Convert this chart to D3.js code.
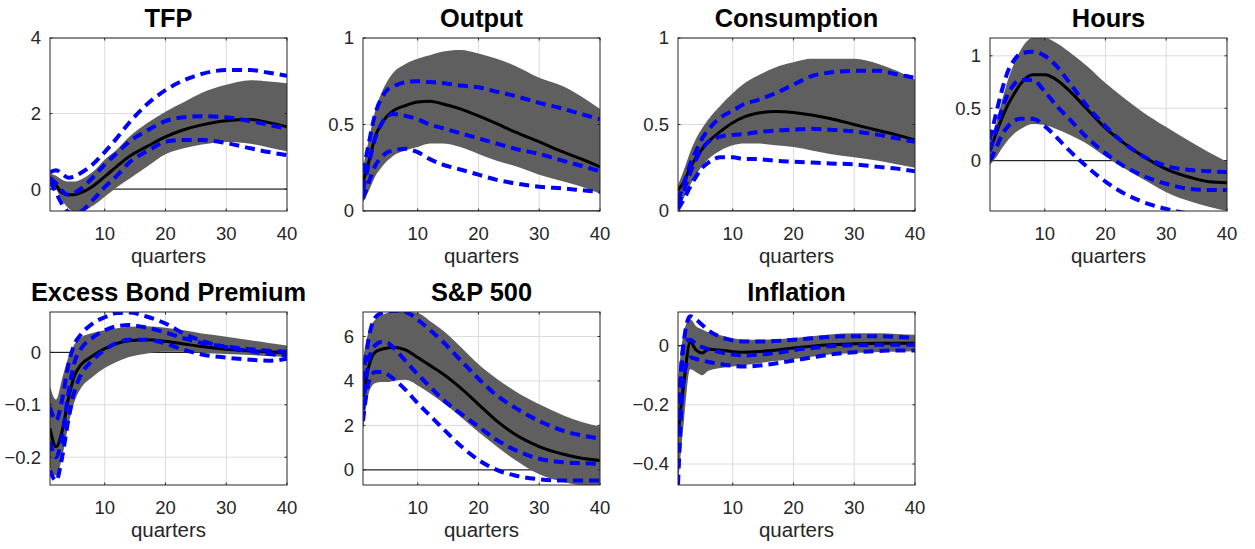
<!DOCTYPE html>
<html>
<head>
<meta charset="utf-8">
<script src="https://cdn.jsdelivr.net/npm/d3@7"></script>
<style>
  html, body { margin: 0; padding: 0; background: #fff; }
  svg text { font-family: "Liberation Sans", Arial, Helvetica, sans-serif; }
</style>
</head>
<body>
<svg id="chart" width="1255" height="549"></svg>
<script>
var quarters = [1, 2, 3, 4, 5, 6, 8, 10, 12, 14, 17, 20, 23, 26, 30, 34, 37, 40];
var xTicks = [10, 20, 30, 40];

// TFP
var tfpBandHi = [0.42, 0.35, 0.25, 0.2, 0.2, 0.25, 0.45, 0.78, 1.05, 1.38, 1.75, 2.05, 2.3, 2.55, 2.76, 2.88, 2.85, 2.8];
var tfpBandLo = [0.2, 0.0, -0.3, -0.5, -0.6, -0.6, -0.45, -0.2, 0.05, 0.27, 0.6, 0.92, 1.08, 1.18, 1.25, 1.2, 1.1, 1.0];
var tfpMedian = [0.3, 0.1, -0.1, -0.15, -0.15, -0.1, 0.07, 0.33, 0.6, 0.86, 1.13, 1.38, 1.57, 1.7, 1.81, 1.84, 1.76, 1.65];
var tfpBlueHi = [0.45, 0.5, 0.4, 0.3, 0.33, 0.42, 0.65, 0.98, 1.35, 1.75, 2.25, 2.62, 2.88, 3.05, 3.15, 3.15, 3.08, 3.0];
var tfpBlueMid = [0.3, 0.15, -0.05, -0.15, -0.1, 0.0, 0.3, 0.65, 0.95, 1.25, 1.55, 1.8, 1.9, 1.93, 1.9, 1.8, 1.7, 1.6];
var tfpBlueLo = [0.2, -0.1, -0.4, -0.6, -0.65, -0.6, -0.3, 0.05, 0.35, 0.7, 1.0, 1.25, 1.3, 1.3, 1.22, 1.08, 0.98, 0.9];

// Output
var outBandHi = [0.25, 0.42, 0.58, 0.68, 0.75, 0.8, 0.85, 0.88, 0.9, 0.92, 0.93, 0.91, 0.88, 0.84, 0.77, 0.72, 0.66, 0.59];
var outBandLo = [0.05, 0.12, 0.2, 0.25, 0.29, 0.32, 0.35, 0.37, 0.39, 0.39, 0.37, 0.33, 0.29, 0.26, 0.21, 0.17, 0.14, 0.1];
var outMedian = [0.17, 0.29, 0.43, 0.5, 0.55, 0.58, 0.61, 0.63, 0.634, 0.62, 0.59, 0.55, 0.505, 0.457, 0.4, 0.34, 0.3, 0.255];
var outBlueHi = [0.22, 0.4, 0.56, 0.65, 0.7, 0.72, 0.745, 0.75, 0.745, 0.74, 0.725, 0.715, 0.69, 0.665, 0.625, 0.59, 0.56, 0.53];
var outBlueMid = [0.12, 0.28, 0.42, 0.5, 0.55, 0.56, 0.55, 0.53, 0.5, 0.48, 0.45, 0.42, 0.39, 0.36, 0.33, 0.29, 0.26, 0.23];
var outBlueLo = [0.07, 0.17, 0.26, 0.31, 0.34, 0.35, 0.36, 0.34, 0.3, 0.27, 0.24, 0.21, 0.18, 0.16, 0.14, 0.13, 0.12, 0.11];

// Consumption
var conBandHi = [0.15, 0.24, 0.34, 0.42, 0.48, 0.53, 0.61, 0.68, 0.74, 0.78, 0.83, 0.86, 0.88, 0.88, 0.88, 0.85, 0.81, 0.76];
var conBandLo = [0.03, 0.08, 0.15, 0.21, 0.26, 0.3, 0.35, 0.38, 0.39, 0.39, 0.38, 0.37, 0.35, 0.33, 0.31, 0.29, 0.27, 0.25];
var conMedian = [0.12, 0.17, 0.25, 0.31, 0.36, 0.4, 0.46, 0.51, 0.545, 0.565, 0.575, 0.57, 0.555, 0.535, 0.5, 0.465, 0.44, 0.41];
var conBlueHi = [0.06, 0.16, 0.27, 0.35, 0.42, 0.47, 0.54, 0.58, 0.62, 0.64, 0.68, 0.73, 0.78, 0.8, 0.81, 0.81, 0.79, 0.77];
var conBlueMid = [0.03, 0.12, 0.22, 0.3, 0.36, 0.4, 0.43, 0.44, 0.445, 0.455, 0.465, 0.47, 0.475, 0.47, 0.46, 0.44, 0.42, 0.4];
var conBlueLo = [0.01, 0.07, 0.14, 0.2, 0.25, 0.28, 0.31, 0.31, 0.3, 0.3, 0.29, 0.285, 0.28, 0.275, 0.27, 0.255, 0.245, 0.23];

// Hours
var hrsBandHi = [0.13, 0.35, 0.58, 0.78, 0.93, 1.05, 1.17, 1.17, 1.12, 1.04, 0.9, 0.74, 0.6, 0.47, 0.32, 0.18, 0.08, -0.01];
var hrsBandLo = [-0.04, 0.03, 0.12, 0.2, 0.26, 0.3, 0.35, 0.34, 0.3, 0.25, 0.16, 0.04, -0.07, -0.17, -0.3, -0.39, -0.44, -0.48];
var hrsMedian = [0.09, 0.26, 0.41, 0.54, 0.64, 0.73, 0.82, 0.82, 0.77, 0.67, 0.49, 0.31, 0.17, 0.05, -0.08, -0.16, -0.2, -0.21];
var hrsBlueHi = [0.2, 0.45, 0.68, 0.86, 0.96, 1.02, 1.04, 1.0, 0.9, 0.75, 0.52, 0.33, 0.17, 0.05, -0.05, -0.09, -0.1, -0.11];
var hrsBlueMid = [0.1, 0.3, 0.5, 0.64, 0.73, 0.77, 0.77, 0.66, 0.52, 0.4, 0.22, 0.07, -0.05, -0.14, -0.22, -0.27, -0.28, -0.28];
var hrsBlueLo = [0.0, 0.12, 0.25, 0.33, 0.38, 0.4, 0.4, 0.33, 0.22, 0.1, -0.06, -0.2, -0.31, -0.39, -0.46, -0.5, -0.5, -0.5];

// Excess Bond Premium
var ebpBandHi = [-0.065, -0.09, -0.05, -0.01, 0.015, 0.028, 0.037, 0.042, 0.046, 0.049, 0.05, 0.047, 0.042, 0.036, 0.03, 0.023, 0.018, 0.013];
var ebpBandLo = [-0.22, -0.235, -0.2, -0.14, -0.095, -0.07, -0.047, -0.03, -0.018, -0.009, -0.002, 0.001, 0.001, -0.001, -0.003, -0.005, -0.007, -0.009];
var ebpMedian = [-0.145, -0.18, -0.15, -0.09, -0.045, -0.025, -0.007, 0.007, 0.017, 0.022, 0.024, 0.021, 0.016, 0.011, 0.006, 0.003, 0.001, -0.002];
var ebpBlueHi = [-0.105, -0.13, -0.09, -0.025, 0.015, 0.033, 0.055, 0.067, 0.075, 0.076, 0.068, 0.055, 0.036, 0.022, 0.01, 0.002, -0.003, -0.006];
var ebpBlueMid = [-0.17, -0.2, -0.16, -0.08, -0.02, 0.005, 0.028, 0.042, 0.05, 0.052, 0.047, 0.038, 0.027, 0.018, 0.011, 0.006, 0.003, 0.001];
var ebpBlueLo = [-0.225, -0.245, -0.2, -0.13, -0.075, -0.045, -0.015, 0.005, 0.018, 0.024, 0.024, 0.017, 0.005, -0.004, -0.01, -0.014, -0.016, -0.012];

// S&P 500
var spBandHi = [5.0, 6.3, 6.75, 6.95, 7.05, 7.1, 7.1, 7.05, 6.7, 6.3, 5.55, 4.75, 4.1, 3.55, 2.95, 2.45, 2.15, 1.95];
var spBandLo = [1.8, 3.5, 3.9, 3.95, 3.95, 4.0, 4.05, 3.8, 3.45, 3.05, 2.4, 1.7, 1.05, 0.45, -0.2, -0.55, -0.7, -0.75];
var spMedian = [3.3, 4.7, 5.3, 5.42, 5.48, 5.52, 5.4, 5.05, 4.7, 4.35, 3.7, 2.95, 2.2, 1.6, 1.05, 0.7, 0.52, 0.42];
var spBlueHi = [4.0, 6.0, 6.85, 7.05, 7.12, 7.15, 7.1, 6.75, 6.3, 5.8, 4.95, 4.1, 3.35, 2.8, 2.2, 1.75, 1.55, 1.4];
var spBlueMid = [2.7, 5.0, 5.6, 5.75, 5.72, 5.5, 4.9, 4.3, 3.75, 3.2, 2.55, 1.95, 1.35, 0.9, 0.5, 0.34, 0.3, 0.27];
var spBlueLo = [2.2, 4.0, 4.4, 4.4, 4.3, 4.1, 3.6, 3.0, 2.45, 1.9, 1.1, 0.45, 0.0, -0.25, -0.42, -0.48, -0.48, -0.48];

// Inflation
var infBandHi = [-0.12, 0.05, 0.09, 0.065, 0.055, 0.045, 0.035, 0.025, 0.02, 0.02, 0.022, 0.026, 0.032, 0.038, 0.042, 0.042, 0.04, 0.037];
var infBandLo = [-0.47, -0.25, -0.08, -0.09, -0.1, -0.085, -0.075, -0.07, -0.065, -0.06, -0.052, -0.045, -0.037, -0.03, -0.025, -0.021, -0.02, -0.019];
var infMedian = [-0.3, -0.12, 0.012, -0.015, -0.025, -0.012, -0.015, -0.02, -0.022, -0.02, -0.015, -0.008, -0.002, 0.003, 0.007, 0.008, 0.008, 0.008];
var infBlueHi = [-0.3, 0.02, 0.1, 0.088, 0.07, 0.052, 0.03, 0.018, 0.014, 0.014, 0.016, 0.02, 0.025, 0.03, 0.032, 0.032, 0.03, 0.026];
var infBlueMid = [-0.25, 0.01, 0.02, 0.005, -0.005, -0.012, -0.022, -0.03, -0.033, -0.03, -0.025, -0.015, -0.008, -0.002, 0.002, 0.003, 0.003, 0.003];
var infBlueLo = [-0.47, -0.1, -0.04, -0.045, -0.05, -0.055, -0.062, -0.068, -0.07, -0.068, -0.06, -0.05, -0.04, -0.03, -0.022, -0.018, -0.016, -0.016];

var titles = ["TFP", "Output", "Consumption", "Hours", "Excess Bond Premium", "S&P 500", "Inflation"];
var yLimits = [[-0.58, 4], [0, 1], [0, 1], [-0.48, 1.17], [-0.253, 0.077], [-0.68, 7.1], [-0.471, 0.114]];
var yTicks = [[0, 2, 4], [0, 0.5, 1], [0, 0.5, 1], [0, 0.5, 1], [-0.2, -0.1, 0], [0, 2, 4, 6], [-0.4, -0.2, 0]];

var panels = [
  [tfpBandLo, tfpBandHi, tfpMedian, tfpBlueHi, tfpBlueMid, tfpBlueLo],
  [outBandLo, outBandHi, outMedian, outBlueHi, outBlueMid, outBlueLo],
  [conBandLo, conBandHi, conMedian, conBlueHi, conBlueMid, conBlueLo],
  [hrsBandLo, hrsBandHi, hrsMedian, hrsBlueHi, hrsBlueMid, hrsBlueLo],
  [ebpBandLo, ebpBandHi, ebpMedian, ebpBlueHi, ebpBlueMid, ebpBlueLo],
  [spBandLo, spBandHi, spMedian, spBlueHi, spBlueMid, spBlueLo],
  [infBandLo, infBandHi, infMedian, infBlueHi, infBlueMid, infBlueLo]
];

// subplot grid (2 x 4)
var colLeft = [50, 363, 678, 990];
var rowTop = [38, 312];
var axW = 237, axH = 173;

var svg = d3.select("#chart");
var textColor = "#262626";

panels.forEach(function (p, k) {
  var col = k % 4, row = Math.floor(k / 4);
  var g = svg.append("g").attr("transform", "translate(" + colLeft[col] + "," + rowTop[row] + ")");

  var x = d3.scaleLinear().domain([1, 40]).range([0, axW]);
  var y = d3.scaleLinear().domain(yLimits[k]).range([axH, 0]);

  var clipId = "clip" + k;
  g.append("clipPath").attr("id", clipId)
    .append("rect").attr("width", axW).attr("height", axH);

  // grid
  g.append("g").selectAll("line.vx").data(xTicks.filter(function (t) { return t < 40; }))
    .enter().append("line")
    .attr("x1", function (d) { return x(d); }).attr("x2", function (d) { return x(d); })
    .attr("y1", 0).attr("y2", axH)
    .attr("stroke", "#dcdcdc").attr("stroke-width", 1);
  g.append("g").selectAll("line.hy").data(yTicks[k])
    .enter().append("line")
    .attr("x1", 0).attr("x2", axW)
    .attr("y1", function (d) { return y(d); }).attr("y2", function (d) { return y(d); })
    .attr("stroke", "#dcdcdc").attr("stroke-width", 1);

  var plot = g.append("g").attr("clip-path", "url(#" + clipId + ")");

  // zero line
  plot.append("line")
    .attr("x1", x(1)).attr("x2", x(40))
    .attr("y1", y(0)).attr("y2", y(0))
    .attr("stroke", "#000").attr("stroke-width", 1);

  var rows = quarters.map(function (q, i) {
    return { q: q, lo: p[0][i], hi: p[1][i], med: p[2][i], bh: p[3][i], bm: p[4][i], bl: p[5][i] };
  });

  var area = d3.area()
    .x(function (d) { return x(d.q); })
    .y0(function (d) { return y(d.lo); })
    .y1(function (d) { return y(d.hi); })
    .curve(d3.curveMonotoneX);
  plot.append("path").datum(rows).attr("d", area).attr("fill", "#5f5f5f");

  function lineOf(key) {
    return d3.line()
      .x(function (d) { return x(d.q); })
      .y(function (d) { return y(d[key]); })
      .curve(d3.curveMonotoneX);
  }

  plot.append("path").datum(rows).attr("d", lineOf("med"))
    .attr("fill", "none").attr("stroke", "#000").attr("stroke-width", 3);

  ["bh", "bm", "bl"].forEach(function (key) {
    plot.append("path").datum(rows).attr("d", lineOf(key))
      .attr("fill", "none").attr("stroke", "#0000ff").attr("stroke-width", 4)
      .attr("stroke-dasharray", "10,6");
  });

  // box
  g.append("rect").attr("width", axW).attr("height", axH)
    .attr("fill", "none").attr("stroke", textColor).attr("stroke-width", 1);

  // ticks (inward) and labels
  xTicks.forEach(function (t) {
    g.append("line").attr("x1", x(t)).attr("x2", x(t)).attr("y1", axH).attr("y2", axH - 2.5)
      .attr("stroke", textColor);
    g.append("line").attr("x1", x(t)).attr("x2", x(t)).attr("y1", 0).attr("y2", 2.5)
      .attr("stroke", textColor);
    g.append("text").attr("x", x(t)).attr("y", axH + 29)
      .attr("text-anchor", "middle").attr("fill", textColor)
      .style("font-size", "18.5px").text(t);
  });
  yTicks[k].forEach(function (t) {
    g.append("line").attr("x1", 0).attr("x2", 2.5).attr("y1", y(t)).attr("y2", y(t))
      .attr("stroke", textColor);
    g.append("line").attr("x1", axW).attr("x2", axW - 2.5).attr("y1", y(t)).attr("y2", y(t))
      .attr("stroke", textColor);
    g.append("text").attr("x", -9).attr("y", y(t)).attr("dy", "0.35em")
      .attr("text-anchor", "end").attr("fill", textColor)
      .style("font-size", "18.5px").text(d3.format("~g")(t));
  });

  g.append("text").attr("x", axW / 2).attr("y", axH + 52)
    .attr("text-anchor", "middle").attr("fill", textColor)
    .style("font-size", "20.5px").text("quarters");

  g.append("text").attr("x", axW / 2).attr("y", -11)
    .attr("text-anchor", "middle").attr("fill", "#000")
    .style("font-size", "25.4px").style("font-weight", "bold").text(titles[k]);
});
</script>
</body>
</html>
